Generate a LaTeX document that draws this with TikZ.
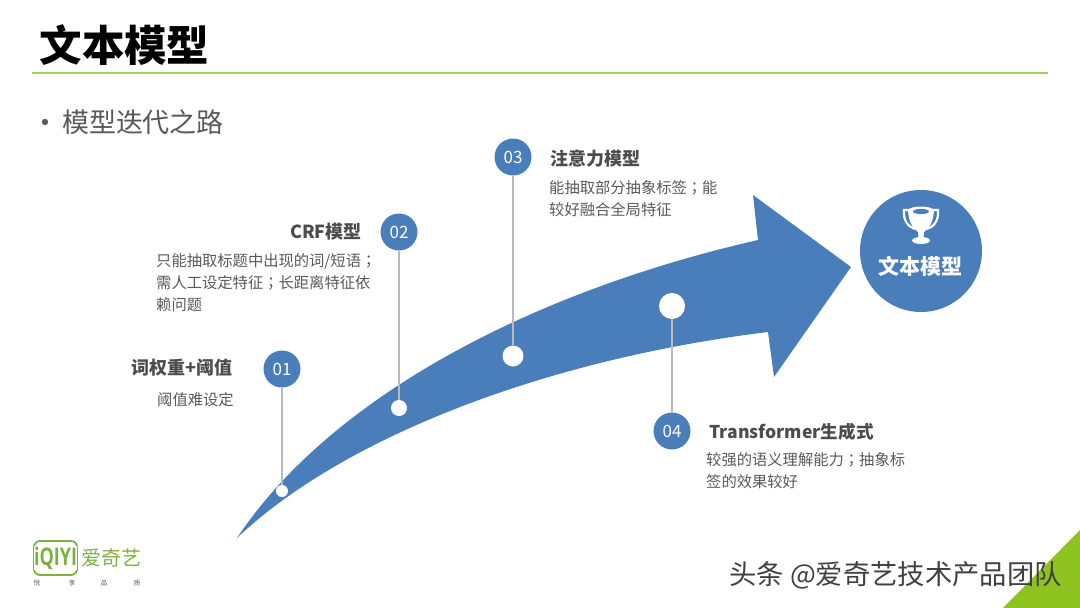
\documentclass[tikz,border=0pt]{standalone}
\usepackage{fontspec}
\setmainfont{Noto Sans CJK SC}
\newfontfamily\latinfont{Open Sans}
\newfontfamily\tcfont{Noto Sans CJK TC}
\newcommand{\semi}{{\tcfont ；}}
\definecolor{stepblue}{HTML}{4A7EBB}
\definecolor{linegreen}{HTML}{A6CE5A}
\definecolor{cornergreen}{HTML}{8DC21F}
\definecolor{logogreen}{HTML}{7DB13F}
\definecolor{textgray}{HTML}{595959}
\begin{document}
\begin{tikzpicture}[x=1pt, y=-1pt,
	stepnum/.style = {circle, fill=stepblue, text=white, minimum size=37pt, inner sep=0pt, font=\fontsize{17}{17}\selectfont},
	stepdot/.style = {circle, fill=white, inner sep=0pt},
	stephead/.style = {text=black!70, inner sep=0pt, font=\fontsize{18}{18}\selectfont\bfseries},
	stepbody/.style = {text=textgray, inner sep=0pt, align=left, anchor=north west, font=\fontsize{15.3}{22}\selectfont},
	stepline/.style = {draw=black!27, line width=1.8pt},
	tagline/.style = {inner sep=0pt, text=textgray, font=\fontsize{6.5}{6.5}\selectfont}]
	\useasboundingbox (0,0) rectangle (1080,608);
	
	\node[inner sep=0pt, font=\fontsize{42.5}{42.5}\selectfont\bfseries, text=black] (title) at (124.5,45) {文本模型};
	\coordinate (ruleL) at (32,73);
	\coordinate (ruleR) at (1048,73);
	\draw[linegreen, line width=2.6pt] (ruleL) -- (ruleR);
	\node[inner sep=0pt, font=\fontsize{27}{27}\selectfont, text=textgray] (sub) at (143,122) {模型迭代之路};
	\fill[textgray] (45,122) circle (3.2);
	
	% arrow
	\fill[stepblue] (237,538) .. controls (330,398) and (530,292) .. (758,240)
		-- (753,195) -- (851,267) -- (774,377) -- (768,332)
		.. controls (540,360) and (340,440) .. (237,538) -- cycle;
	
	\node[stepnum] (s1) at (282,369) {01};
	\node[stepnum] (s2) at (399,232) {02};
	\node[stepnum] (s3) at (513,157) {03};
	\node[stepnum] (s4) at (672,431) {04};
	
	\node[stepdot, minimum size=12pt] (d1) at (282,491) {};
	\node[stepdot, minimum size=16pt] (d2) at (399,408) {};
	\node[stepdot, minimum size=21pt] (d3) at (513,356) {};
	\node[stepdot, minimum size=26pt] (d4) at (672,306) {};
	
	\draw[stepline] (s1) -- (d1);
	\draw[stepline] (s2) -- (d2);
	\draw[stepline] (s3) -- (d3);
	\draw[stepline] (s4) -- (d4);
	
	\node[stephead] (h1) at (182,368) {词权重+阈值};
	\node[stepbody] (b1) at (157,392) {阈值难设定};
	\node[stephead] (h2) at (326,232) {CRF模型};
	\node[stepbody] (b2) at (156,253) {只能抽取标题中出现的词/短语\semi\\需人工设定特征\semi 长距离特征依\\赖问题};
	\node[stephead] (h3) at (595,159) {注意力模型};
	\node[stepbody] (b3) at (549,180) {能抽取部分抽象标签\semi 能\\较好融合全局特征};
	\node[stephead, font=\fontsize{17.6}{18}\selectfont\bfseries] (h4) at (791.5,432) {Transformer生成式};
	\node[stepbody] (b4) at (706,452) {较强的语义理解能力\semi 抽象标\\签的效果较好};
	
	% goal
	\node[circle, fill=stepblue, minimum size=122pt, inner sep=0pt] (goal) at (921,251) {};
	\node[text=white, inner sep=0pt, font=\fontsize{21}{21}\selectfont\bfseries] (goaltext) at (920,266) {文本模型};
	\draw[white, line width=2.2pt] (910,210) -- (904,210) .. controls (903,220) and (908,227) .. (915,229);
	\draw[white, line width=2.2pt] (932,210) -- (938,210) .. controls (939,220) and (934,227) .. (927,229);
	\fill[white] (908,211) .. controls (908,205) and (934,205) .. (934,211)
		.. controls (933,224) and (928,229) .. (924,232) -- (923.5,238) -- (918.5,238) -- (918,232)
		.. controls (914,229) and (909,224) .. (908,211) -- cycle;
	\fill[white] (921,240.5) ellipse (9 and 3.5);
	\fill[stepblue] (921,211.5) ellipse (8 and 2.6);
	
	% logo
	\draw[logogreen, line width=1.8pt, rounded corners=6pt] (34,541) rectangle (77,575);
	\node[fill=white, inner sep=0.5pt, text=logogreen, yscale=1.35, font=\latinfont\fontsize{18}{18}\selectfont\bfseries] (iqiy) at (55.5,558) {iQIYI};
	\node[inner sep=0pt, text=logogreen, font=\fontsize{20}{20}\selectfont] (brand) at (111,558) {爱奇艺};
	\node[tagline] (q1) at (37,583) {悦};
	\node[tagline] (q2) at (72,583) {享};
	\node[tagline] (q3) at (104,583) {品};
	\node[tagline] (q4) at (137,583) {质};
	
	% corner
	\fill[cornergreen] (1003,608) -- (1080,530) -- (1080,608) -- cycle;
	\node[inner sep=0pt, text=black!75, font=\fontsize{27.3}{27.3}\selectfont] (mark) at (895.5,575) {头条 @爱奇艺技术产品团队};
\end{tikzpicture}
\end{document}
